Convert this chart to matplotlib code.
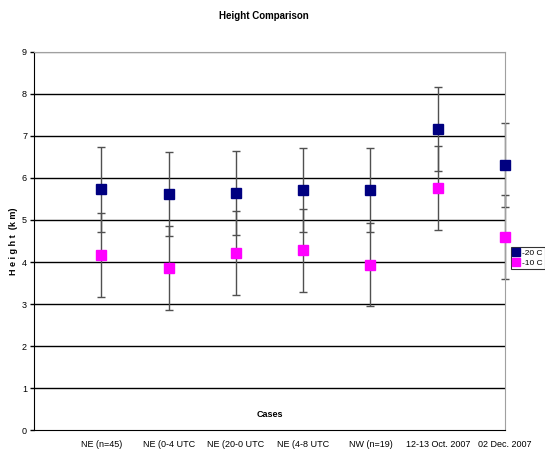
import numpy as np
import matplotlib.pyplot as plt

plt.rcParams['font.family'] = ['Liberation Sans', 'DejaVu Sans']

cases = ['NE (n=45)', 'NE (0-4 UTC', 'NE (20-0 UTC', 'NE (4-8 UTC',
         'NW (n=19)', '12-13 Oct. 2007', '02 Dec. 2007']
h20 = [5.73, 5.61, 5.64, 5.71, 5.71, 7.16, 6.31]
h20_err = [1.01, 1.0, 1.0, 1.0, 1.0, 1.0, 0.99]
h10 = [4.16, 3.85, 4.21, 4.28, 3.94, 5.75, 4.59]
h10_err = [1.0, 1.0, 1.0, 0.99, 0.99, 1.0, 1.0]

fig = plt.figure(figsize=(5.45, 4.53), dpi=100)
ax = fig.add_axes([34/545, 23/453, 471/545, 378/453])

x = np.arange(1, len(cases) + 1)

for k in range(9):
    ax.axhline(k + 1, color='black' if k < 8 else '#808080', lw=1.0, zorder=1)

for vals, errs in [(h20, h20_err), (h10, h10_err)]:
    eb = ax.errorbar(x, vals, yerr=errs, fmt='none', ecolor='#505050',
                     elinewidth=1.0, capsize=3, capthick=1.0, zorder=2)
    for art in eb.lines[1] + eb.lines[2]:
        art.set_clip_on(False)
ax.plot(x, h20, ls='none', marker='s', ms=7.5, color='#000080', label='-20 C',
        clip_on=False, zorder=3)
ax.plot(x, h10, ls='none', marker='s', ms=7.5, color='#FF00FF', label='-10 C',
        clip_on=False, zorder=3)

ax.set_xlim(0, 7)
ax.set_ylim(0, 9)
ax.set_yticks(range(10))
ax.set_xticks(x)
ax.set_xticklabels(cases, fontsize=6.5)
ax.tick_params(axis='x', length=0, pad=7)
ax.tick_params(axis='y', length=3, width=1, labelsize=6.5, pad=2)

for side in ['top', 'right']:
    ax.spines[side].set_color('#a0a0a0')
ax.spines['left'].set_color('black')
ax.spines['bottom'].set_color('black')

ax.text(0.5, 0.03, 'Cases', transform=ax.transAxes, ha='center', va='bottom',
        fontsize=6.5, fontweight='bold')
ax.set_ylabel('H e i g h t  (k m)', fontsize=6.5, fontweight='bold', labelpad=3)
fig.suptitle('Height Comparison', x=0.485, y=0.975, fontsize=7, fontweight='bold')

leg = ax.legend(loc='center left', bbox_to_anchor=(1.013, 0.455), fontsize=6,
                frameon=True, fancybox=False, edgecolor='black',
                handlelength=0.6, handletextpad=0.5, borderpad=0.25,
                borderaxespad=0, labelspacing=0.3, markerscale=0.7)
leg.get_frame().set_linewidth(0.8)

fig.savefig('out.png', dpi=100)
